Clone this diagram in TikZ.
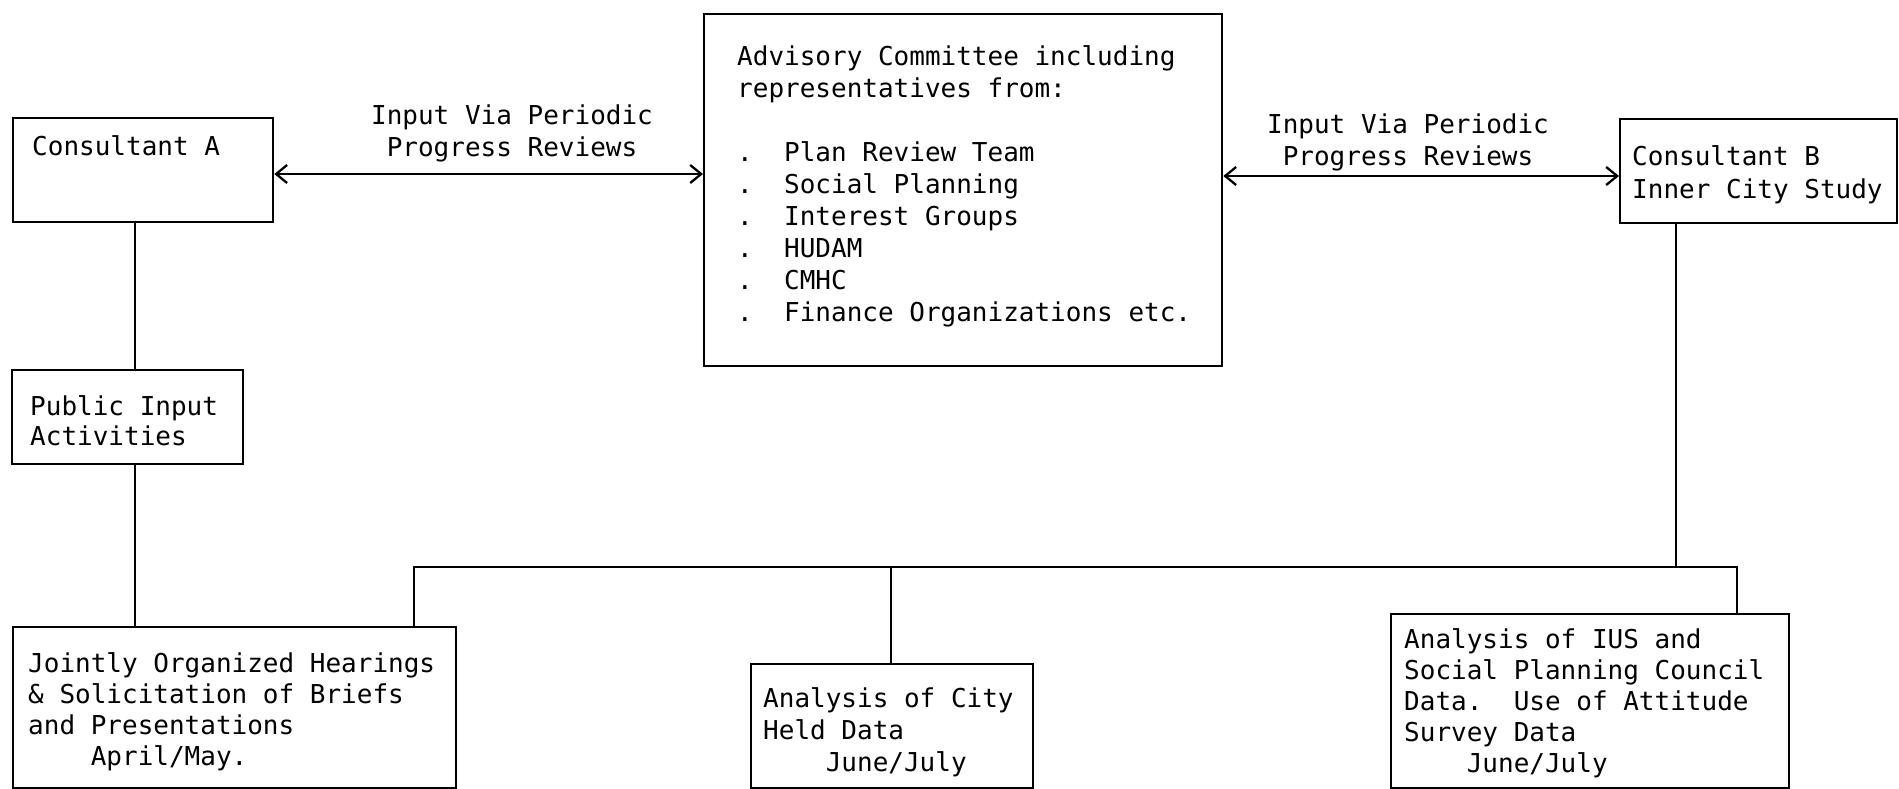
\documentclass[tikz,border=0pt]{standalone}
\usepackage{fontspec}
\setmonofont{DejaVu Sans Mono}
\usetikzlibrary{arrows.meta}
\newcommand\myindent{\phantom{0000}}
\begin{document}
\begin{tikzpicture}[x=1pt,y=-1pt,
  box/.style={draw=black, line width=2.3pt, inner sep=0pt, anchor=north west},
  txt/.style={font=\ttfamily\fontsize{26}{31}\selectfont, inner sep=0pt, align=left, anchor=base west, text=black},
  lbl/.style={font=\ttfamily\fontsize{26}{32}\selectfont, inner sep=0pt, align=center, anchor=base, text=black},
  link/.style={draw=black, line width=2.3pt},
  twoway/.style={draw=black, line width=2.3pt, {Straight Barb[length=11pt,width=18pt]}-{Straight Barb[length=11pt,width=18pt]}}
]
\useasboundingbox (0,0) rectangle (1899,789);

% boxes
\node[box, minimum width=260pt, minimum height=104pt] (ca) at (12,117) {};
\node[box, minimum width=277pt, minimum height=104pt] (cb) at (1619,118) {};
\node[box, minimum width=518pt, minimum height=352pt] (adv) at (703,13) {};
\node[box, minimum width=231pt, minimum height=94pt] (pub) at (11,369) {};
\node[box, minimum width=443pt, minimum height=161pt] (joint) at (12,626) {};
\node[box, minimum width=282pt, minimum height=124pt] (mid) at (750,663) {};
\node[box, minimum width=398pt, minimum height=174pt] (rgt) at (1390,613) {};

% texts (anchor = baseline of the last line)
\node[txt] (tca) at (32,156) {Consultant A};
\node[txt, font=\ttfamily\fontsize{26}{33}\selectfont] (tcb) at (1632,199) {Consultant B\\Inner City Study};
\node[txt, font=\ttfamily\fontsize{26}{32}\selectfont] (tadv) at (737,321) {Advisory Committee including\\representatives from:\\\mbox{}\\.~~Plan Review Team\\.~~Social Planning\\.~~Interest Groups\\.~~HUDAM\\.~~CMHC\\.~~Finance Organizations etc.};
\node[txt, font=\ttfamily\fontsize{26}{30}\selectfont] (tpub) at (30,445) {Public Input\\Activities};
\node[txt] (tjoint) at (28,765) {Jointly Organized Hearings\\\& Solicitation of Briefs\\and Presentations\\\myindent April/May.};
\node[txt, font=\ttfamily\fontsize{26}{32}\selectfont] (tmid) at (763,771) {Analysis of City\\Held Data\\\myindent June/July};
\node[txt] (trgt) at (1404,772) {Analysis of IUS and\\Social Planning Council\\Data.~~Use of Attitude\\Survey Data\\\myindent June/July};

% arrow labels
\node[lbl] (l1) at (512,157) {Input Via Periodic\\Progress Reviews};
\node[lbl] (l2) at (1408,165) {Input Via Periodic\\Progress Reviews};

% helper coordinates
\coordinate (arA) at (0,174);
\coordinate (arB) at (0,176);
\coordinate (colA) at (135,0);
\coordinate (colB) at (1676,0);
\coordinate (colJ) at (414,0);
\coordinate (colM) at (891,0);
\coordinate (colR) at (1737,0);
\coordinate (bus) at (0,567);

% connectors
\draw[twoway] (ca.east |- arA) -- (adv.west |- arA);
\draw[twoway] (adv.east |- arB) -- (cb.west |- arB);
\draw[link] (ca.south -| colA) -- (pub.north -| colA);
\draw[link] (pub.south -| colA) -- (joint.north -| colA);
\draw[link] (cb.south -| colB) -- (bus -| colB);
\draw[link] (joint.north -| colJ) -- (bus -| colJ) -- (bus -| colR) -- (rgt.north -| colR);
\draw[link] (bus -| colM) -- (mid.north -| colM);
\end{tikzpicture}
\end{document}
